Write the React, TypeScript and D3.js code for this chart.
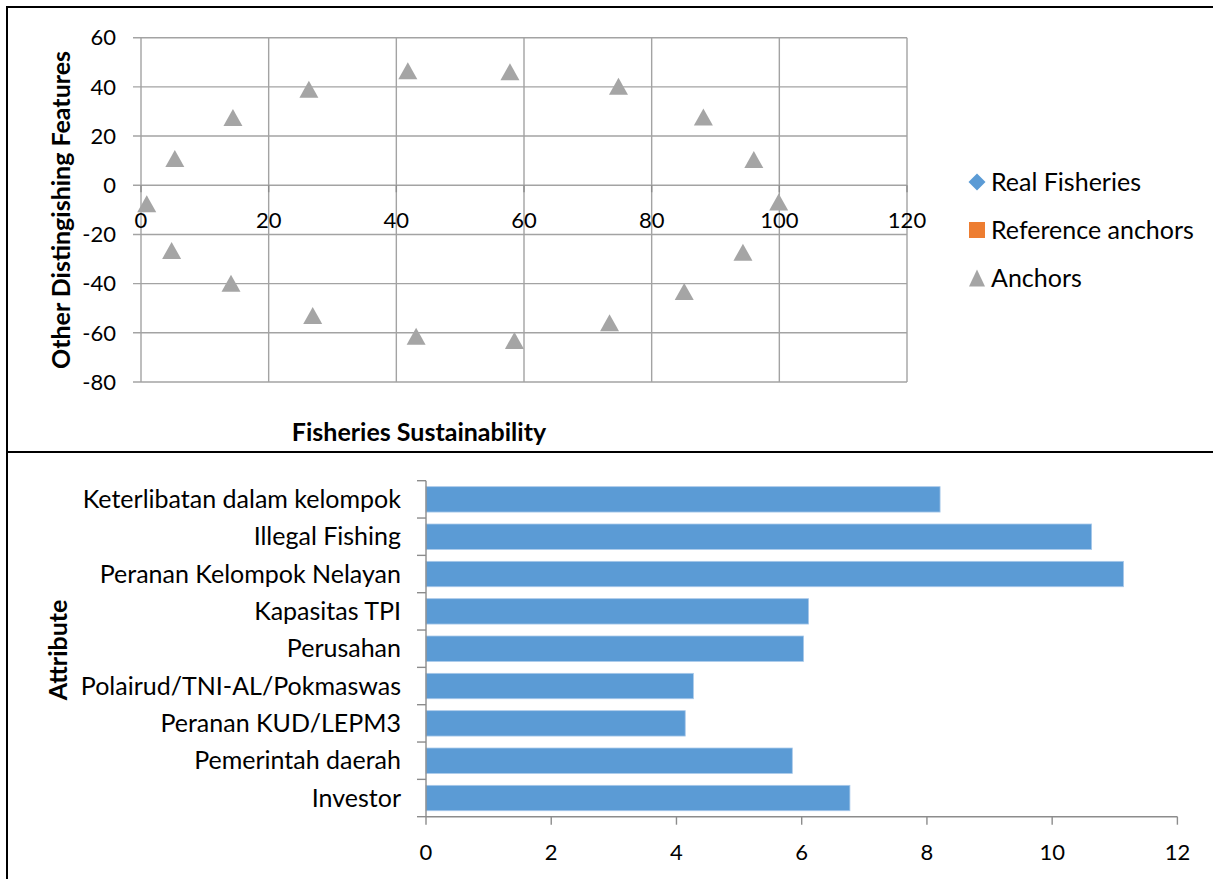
import React from "react";
import * as d3 from "d3";

// Scatter (ordination) data
const anchorX = [0.9, 5.3, 14.4, 26.3, 41.8, 57.8, 74.8, 88.1, 96.0, 99.9, 94.3, 85.1, 73.4, 58.5, 43.1, 26.9, 14.1, 4.8];
const anchorY = [-7.5, 10.9, 27.6, 39.0, 46.6, 46.2, 40.3, 27.8, 10.5, -6.8, -27.2, -43.2, -55.9, -63.1, -61.4, -53.0, -39.8, -26.5];
const realFisheriesX: number[] = [];
const realFisheriesY: number[] = [];
const referenceX: number[] = [];
const referenceY: number[] = [];
const scatterXTicks = [0, 20, 40, 60, 80, 100, 120];
const scatterYTicks = [60, 40, 20, 0, -20, -40, -60, -80];
const legendLabels = ["Real Fisheries", "Reference anchors", "Anchors"];

// Leverage bar data
const attributes = [
  "Keterlibatan dalam kelompok",
  "Illegal Fishing",
  "Peranan Kelompok Nelayan",
  "Kapasitas TPI",
  "Perusahan",
  "Polairud/TNI-AL/Pokmaswas",
  "Peranan KUD/LEPM3",
  "Pemerintah daerah",
  "Investor",
];
const leverage = [8.21, 10.63, 11.14, 6.11, 6.03, 4.27, 4.14, 5.85, 6.77];
const barTicks = [0, 2, 4, 6, 8, 10, 12];

const FONT = "Lato, 'Noto Sans', sans-serif";
const GRID = "#a3a3a3";
const AXIS = "#8c8c8c";
const BLUE = "#5b9bd5";
const ORANGE = "#ed7d31";
const GRAY = "#a5a5a5";
const TICK_FS = 22;
const TEXT_FS = 25;

// Triangle path with bounding box centred on (0,0)
const triPath = (w: number, h: number) =>
  d3.line()([
    [0, -h / 2],
    [w / 2, h / 2],
    [-w / 2, h / 2],
  ]) + "Z";

// Diamond (square turned 45°) with given half-diagonal
const diamondPath = (r: number) =>
  d3.line()([
    [0, -r],
    [r, 0],
    [0, r],
    [-r, 0],
  ]) + "Z";

export default function App() {
  const sx = d3.scaleLinear().domain([0, 120]).range([141, 907]);
  const sy = d3.scaleLinear().domain([-80, 60]).range([382, 37.7]);

  const bx = d3.scaleLinear().domain([0, 12]).range([426, 1177.4]);
  const by = d3
    .scaleBand<string>()
    .domain(attributes)
    .range([480.7, 816.7])
    .paddingInner(0.32)
    .paddingOuter(0.16);
  const step = by.step();
  const barTop = by.range()[0];
  const barBottom = by.range()[1];

  const legendY = [182, 230, 278];
  const legendX = 977;

  return (
    <svg
      width={1213}
      height={879}
      style={{ position: "absolute", left: 0, top: 0, background: "#fff" }}
      fontFamily={FONT}
    >
      {/* outer frames */}
      <rect x={7} y={7} width={1220} height={445} fill="none" stroke="#000" strokeWidth={2} />
      <rect x={7} y={452} width={1220} height={440} fill="none" stroke="#000" strokeWidth={2} />

      {/* ---------- scatter ---------- */}
      <g>
        {scatterYTicks.map((t) => (
          <line key={"gy" + t} x1={sx(0) - 8} x2={sx(120)} y1={sy(t)} y2={sy(t)} stroke={GRID} strokeWidth={1.4} />
        ))}
        {scatterXTicks.map((t) => (
          <line key={"gx" + t} x1={sx(t)} x2={sx(t)} y1={sy(60)} y2={sy(-80)} stroke={GRID} strokeWidth={1.4} />
        ))}
        {scatterXTicks.map((t) => (
          <line key={"tx" + t} x1={sx(t)} x2={sx(t)} y1={sy(0)} y2={sy(0) + 7} stroke={AXIS} strokeWidth={1.4} />
        ))}
        {scatterYTicks.map((t) => (
          <text key={"ly" + t} x={116} y={sy(t)} dy="0.35em" textAnchor="end" fontSize={TICK_FS} fill="#000">
            {t}
          </text>
        ))}
        {scatterXTicks.map((t) => (
          <text key={"lx" + t} x={sx(t)} y={sy(0) + 35} dy="0.35em" textAnchor="middle" fontSize={TICK_FS} fill="#000">
            {t}
          </text>
        ))}
        {realFisheriesX.map((x, i) => (
          <path
            key={"rf" + i}
            d={diamondPath(8)}
            transform={`translate(${sx(x)},${sy(realFisheriesY[i])})`}
            fill={BLUE}
          />
        ))}
        {referenceX.map((x, i) => (
          <rect key={"ra" + i} x={sx(x) - 8} y={sy(referenceY[i]) - 8} width={16} height={16} fill={ORANGE} />
        ))}
        {anchorX.map((x, i) => (
          <path
            key={"an" + i}
            d={triPath(19, 17)}
            transform={`translate(${sx(x)},${sy(anchorY[i])})`}
            fill={GRAY}
          />
        ))}
        <text
          transform={`translate(61,210) rotate(-90)`}
          textAnchor="middle"
          dy="0.35em"
          fontSize={TEXT_FS}
          fontWeight="bold"
          fill="#000"
        >
          Other Distingishing Features
        </text>
        <text x={419} y={432} dy="0.35em" textAnchor="middle" fontSize={TEXT_FS} fontWeight="bold" fill="#000">
          Fisheries Sustainability
        </text>

        {/* legend */}
        <path d={diamondPath(8.5)} transform={`translate(${legendX},${legendY[0]})`} fill={BLUE} />
        <rect x={legendX - 8} y={legendY[1] - 8} width={16} height={16} fill={ORANGE} />
        <path d={triPath(16, 17)} transform={`translate(${legendX},${legendY[2]})`} fill={GRAY} />
        {legendLabels.map((l, i) => (
          <text key={l} x={legendX + 14} y={legendY[i]} dy="0.35em" fontSize={TEXT_FS} fill="#000">
            {l}
          </text>
        ))}
      </g>

      {/* ---------- bars ---------- */}
      <g>
        {attributes.map((a, i) => (
          <rect
            key={a}
            x={bx(0)}
            y={by(a)!}
            width={bx(leverage[i]) - bx(0)}
            height={by.bandwidth()}
            fill={BLUE}
            stroke="#a9c9ea"
            strokeWidth={0.8}
          />
        ))}
        <line x1={bx(0)} x2={bx(0)} y1={barTop} y2={barBottom} stroke={AXIS} strokeWidth={1.4} />
        {d3.range(attributes.length + 1).map((k) => (
          <line
            key={"yt" + k}
            x1={bx(0) - 9}
            x2={bx(0)}
            y1={barTop + k * step}
            y2={barTop + k * step}
            stroke={AXIS}
            strokeWidth={1.4}
          />
        ))}
        <line x1={bx(0)} x2={bx(12)} y1={barBottom} y2={barBottom} stroke={AXIS} strokeWidth={1.4} />
        {barTicks.map((t) => (
          <line key={"bt" + t} x1={bx(t)} x2={bx(t)} y1={barBottom} y2={barBottom + 8} stroke={AXIS} strokeWidth={1.4} />
        ))}
        {barTicks.map((t) => (
          <text key={"bl" + t} x={bx(t)} y={852} dy="0.35em" textAnchor="middle" fontSize={TICK_FS} fill="#000">
            {t}
          </text>
        ))}
        {attributes.map((a) => (
          <text
            key={"al" + a}
            x={401}
            y={by(a)! + by.bandwidth() / 2}
            dy="0.35em"
            textAnchor="end"
            fontSize={TEXT_FS}
            fill="#000"
          >
            {a}
          </text>
        ))}
        <text
          transform={`translate(58,650) rotate(-90)`}
          textAnchor="middle"
          dy="0.35em"
          fontSize={TEXT_FS}
          fontWeight="bold"
          fill="#000"
        >
          Attribute
        </text>
      </g>
    </svg>
  );
}
